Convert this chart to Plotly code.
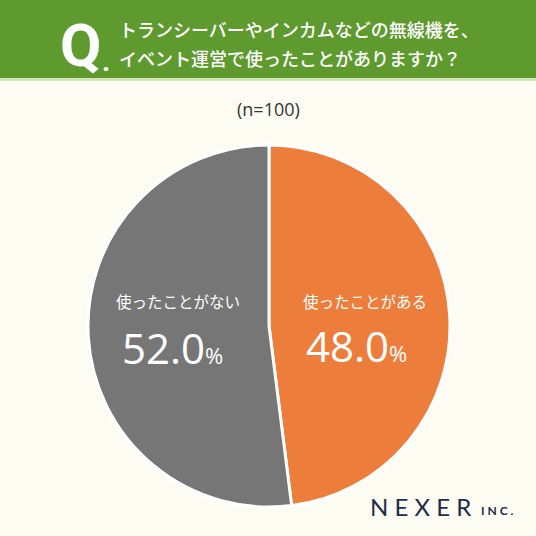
import plotly.graph_objects as go

labels = ["使ったことがある", "使ったことがない"]
values = [48.0, 52.0]
colors = ["#ED7D3B", "#767676"]
question = ["トランシーバーやインカムなどの無線機を、", "イベント運営で使ったことがありますか？"]
n_label = "(n=100)"

W = H = 536
fig = go.Figure()
fig.add_trace(go.Pie(
    labels=labels, values=values, sort=False, direction="clockwise", rotation=0,
    marker=dict(colors=colors, line=dict(color="white", width=3)),
    textinfo="none", hoverinfo="label+percent", showlegend=False,
    domain=dict(x=[(269-181)/W, (269+181)/W], y=[1-507/H, 1-145/H]),
))

shapes = [
    dict(type="rect", xref="paper", yref="paper", x0=0, x1=1, y0=1-78/H, y1=1, fillcolor="#5E9A2E", line_width=0, layer="below"),
    dict(type="rect", xref="paper", yref="paper", x0=0, x1=1, y0=1-81/H, y1=1-78/H, fillcolor="#D3E6B5", line_width=0, layer="below"),
]

FONT = "Noto Sans CJK JP"
def ann(x, y, text, size, color, anchor="center", family=FONT, weight=400):
    return dict(x=x/W, y=1-y/H, xref="paper", yref="paper", text=text, showarrow=False,
                xanchor=anchor, yanchor="middle",
                font=dict(size=size, color=color, family=family, weight=weight))

anns = [
    ann(58, 46, "<b>Q</b>", 60, "white", "left", "Roboto"),
    ann(100, 61, "<b>.</b>", 28, "white", "left", "Roboto"),
    ann(117, 29, question[0], 18, "white", "left", FONT, 500),
    ann(117, 58, question[1], 18, "white", "left", FONT, 500),
    ann(268, 109, n_label, 18, "#333333", "center", "Open Sans", 500),
    ann(365, 301, labels[0], 15.5, "white", "center", FONT, 400),
    ann(178, 301, labels[1], 15.5, "white", "center", FONT, 400),
    ann(356, 345, f"{values[0]:.1f}<span style='font-size:22px'>%</span>", 42, "white", "center", "Open Sans", 500),
    ann(172, 347, f"{values[1]:.1f}<span style='font-size:22px'>%</span>", 42, "white", "center", "Open Sans", 500),
    ann(368, 506, "N E X E R", 24, "#1F2D4A", "left", "Lato"),
    ann(479, 510, "<b>I N C .</b>", 12, "#1F2D4A", "left", "Lato"),
]

fig.update_layout(width=W, height=H, margin=dict(l=0, r=0, t=0, b=0),
                  paper_bgcolor="#FDFCF3", plot_bgcolor="#FDFCF3",
                  shapes=shapes, annotations=anns)
fig.write_html("out.html", config={"displayModeBar": False},
               post_script="document.body.style.margin='0';document.body.style.overflow='hidden';")
